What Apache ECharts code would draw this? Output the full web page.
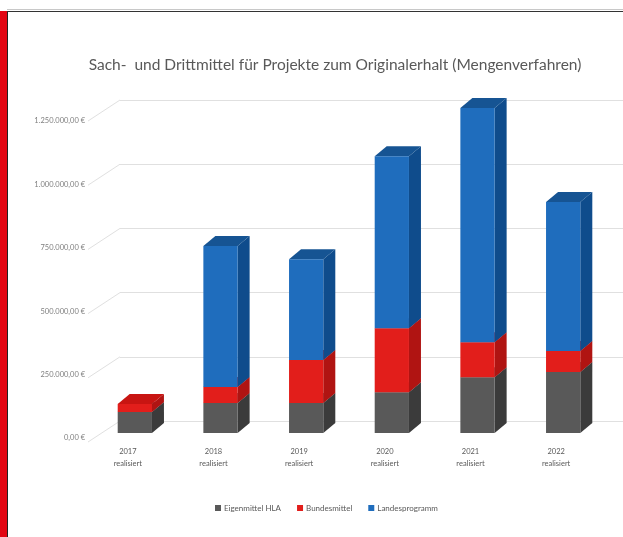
<!DOCTYPE html>
<html>
<head>
<meta charset="utf-8">
<script src="https://cdn.jsdelivr.net/npm/echarts@6/dist/echarts.min.js"></script>
<style>html,body{margin:0;padding:0;background:#fff}#c{width:623px;height:537px}</style>
</head>
<body>
<div id="c"></div>
<script>
const categories = ['2017\nrealisiert','2018\nrealisiert','2019\nrealisiert','2020\nrealisiert','2021\nrealisiert','2022\nrealisiert'];
const eigenmittel = [81000, 116000, 116000, 158000, 216000, 236000];
const bundesmittel = [31000, 62000, 166000, 247000, 135000, 81000];
const landesprogramm = [0, 545000, 390000, 665000, 905000, 576000];
const tickValues = [0, 250000, 500000, 750000, 1000000, 1250000];
const seriesNames = ['Eigenmittel HLA', 'Bundesmittel', 'Landesprogramm'];

const FONT = 'Lato, "Open Sans", sans-serif';
const DX = 12, DY = -10;
const palette = [
  {front:'#595959', side:'#3b3b3b', top:'#6b6b6b'},
  {front:'#e21e1b', side:'#b01412', top:'#c81512'},
  {front:'#1f6dbd', side:'#0f4c8c', top:'#165493'}
];

function fmtEuro(v){
  const s = Math.round(v).toString().replace(/\B(?=(\d{3})+(?!\d))/g, '.');
  return s + ',00 €';
}

const stacks = [eigenmittel, bundesmittel, landesprogramm];
function boxSeries(k){
  const data = categories.map((c,i)=>{
    let base = 0;
    for(let j=0;j<k;j++) base += stacks[j][i];
    return [i, base, base + stacks[k][i]];
  });
  const col = palette[k];
  return {
    type:'custom', name: seriesNames[k], xAxisIndex:0, yAxisIndex:0,
    itemStyle:{color: col.front},
    data: data,
    renderItem: function(params, api){
      const i = api.value(0), b = api.value(1), t = api.value(2);
      if (t - b <= 0) return null;
      const pb = api.coord([i, b]);
      const pt = api.coord([i, t]);
      const w = api.size([1,0])[0] * 0.4;
      const x0 = pb[0] - w/2, x1 = pb[0] + w/2;
      const yb = pb[1], yt = pt[1];
      return {type:'group', children:[
        {type:'polygon', shape:{points:[[x1,yb],[x1+DX,yb+DY],[x1+DX,yt+DY],[x1,yt]]}, style:{fill:col.side}},
        {type:'polygon', shape:{points:[[x0,yt],[x1,yt],[x1+DX,yt+DY],[x0+DX,yt+DY]]}, style:{fill:col.top}},
        {type:'rect', shape:{x:x0, y:yt, width:x1-x0, height:yb-yt}, style:{fill:col.front}}
      ]};
    }
  };
}

const chart = echarts.init(document.getElementById('c'), null, {renderer:'canvas'});
chart.setOption({
  backgroundColor:'#fff',
  animation:false,
  title:{
    text:'Sach-  und Drittmittel für Projekte zum Originalerhalt (Mengenverfahren)',
    left:330, textAlign:'center', top:52,
    textStyle:{fontFamily:FONT, fontSize:15.5, fontWeight:'normal', color:'#595959'}
  },
  legend:{
    data: seriesNames, bottom:20, left:210,
    itemWidth:6, itemHeight:6, itemGap:16, icon:'rect',
    textStyle:{fontFamily:FONT, fontSize:8, color:'#595959', padding:[0,0,0,-2]}
  },
  graphic:[
    {type:'rect', shape:{x:0,y:11,width:7,height:526}, style:{fill:'#e30613'}},
    {type:'line', shape:{x1:7.5,y1:11,x2:7.5,y2:537}, style:{stroke:'#222',lineWidth:1}},
    {type:'line', shape:{x1:7,y1:11.5,x2:623,y2:11.5}, style:{stroke:'#333',lineWidth:1.2}},
    {type:'line', shape:{x1:7,y1:9.5,x2:623,y2:9.5}, style:{stroke:'#c8c8c8',lineWidth:1}}
  ],
  grid:[
    {left:92, right:17, top:45, bottom:104},
    {left:120, right:0, top:100, bottom:116},
    {left:88, right:0, top:121, bottom:99}
  ],
  xAxis:[
    {gridIndex:0, type:'category', data:categories,
     axisLine:{show:false}, axisTick:{show:false},
     axisLabel:{fontFamily:FONT, fontSize:7.5, lineHeight:12, color:'#595959', margin:13, padding:[0,14,0,0]}},
    {gridIndex:1, type:'value', min:0, max:1, show:false},
    {gridIndex:2, type:'value', min:0, max:1, show:false}
  ],
  yAxis:[
    {gridIndex:0, type:'value', min:0, max:1500000, show:false},
    {gridIndex:1, type:'value', min:0, max:1250000, interval:250000,
     axisLabel:{show:false}, axisLine:{show:false}, axisTick:{show:false},
     splitLine:{show:true, lineStyle:{color:'#e0e0e0', width:1}}},
    {gridIndex:2, type:'value', min:0, max:1250000, interval:250000,
     axisLine:{show:false}, axisTick:{show:false}, splitLine:{show:false},
     axisLabel:{fontFamily:FONT, fontSize:7.5, color:'#7f7f7f', margin:3, formatter: fmtEuro}}
  ],
  series:[
    {
      type:'custom', xAxisIndex:1, yAxisIndex:1, silent:true,
      data: tickValues.map(v=>[0, v]),
      renderItem:function(params, api){
        const p = api.coord([api.value(0), api.value(1)]);
        return {type:'line', shape:{x1:p[0]-32, y1:p[1]+21, x2:p[0], y2:p[1]},
                style:{stroke:'#e0e0e0', lineWidth:1}};
      }
    },
    boxSeries(0), boxSeries(1), boxSeries(2)
  ]
});
</script>
</body>
</html>
